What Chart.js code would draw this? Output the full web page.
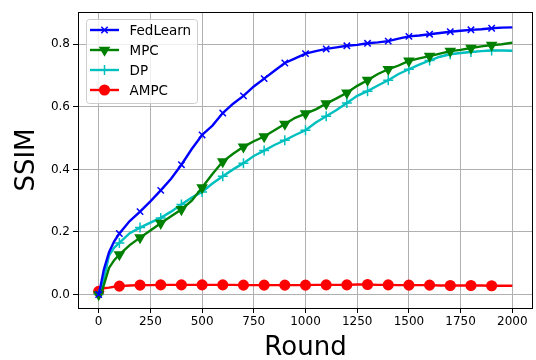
<!DOCTYPE html>
<html>
<head>
<meta charset="utf-8">
<script src="https://cdn.jsdelivr.net/npm/chart.js@4"></script>
<style>
  body { margin: 0; background: #fff; }
  canvas { display: block; }
</style>
</head>
<body>
<canvas id="ssimChart" width="536" height="360"></canvas>
<script>
// Rounds sampled along the x axis (denser at the start where curves rise fast)
const rounds = [0, 10, 25, 50, 75, 100, 150, 200, 250, 300, 350, 400, 450, 500, 550, 600, 650, 700, 750, 800,
    850, 900, 950, 1000, 1050, 1100, 1150, 1200, 1250, 1300, 1350, 1400, 1450, 1500, 1550, 1600, 1650, 1700,
    1750, 1800, 1850, 1900, 1950, 2000];

const fedLearn = [0.0, 0.03, 0.08, 0.135, 0.17, 0.195, 0.235, 0.265, 0.298, 0.333, 0.37, 0.415, 0.465, 0.51,
    0.54, 0.58, 0.61, 0.635, 0.665, 0.69, 0.715, 0.74, 0.755, 0.77, 0.778, 0.785, 0.79, 0.795, 0.798, 0.803,
    0.806, 0.81, 0.818, 0.825, 0.828, 0.832, 0.836, 0.84, 0.843, 0.846, 0.848, 0.851, 0.853, 0.854];

const mpc = [0.0, 0.0, 0.03, 0.085, 0.11, 0.128, 0.158, 0.182, 0.205, 0.228, 0.25, 0.272, 0.3, 0.342, 0.385,
    0.425, 0.45, 0.472, 0.49, 0.505, 0.525, 0.545, 0.565, 0.578, 0.592, 0.61, 0.627, 0.645, 0.667, 0.685,
    0.705, 0.72, 0.732, 0.747, 0.755, 0.762, 0.77, 0.778, 0.782, 0.788, 0.793, 0.797, 0.8, 0.805];

const dp = [0.0, 0.0, 0.05, 0.125, 0.15, 0.165, 0.196, 0.214, 0.23, 0.245, 0.265, 0.288, 0.31, 0.328, 0.355,
    0.378, 0.4, 0.42, 0.443, 0.46, 0.478, 0.493, 0.51, 0.525, 0.55, 0.57, 0.59, 0.612, 0.635, 0.65, 0.668,
    0.685, 0.705, 0.72, 0.735, 0.748, 0.76, 0.768, 0.772, 0.775, 0.778, 0.78, 0.78, 0.779];

const ampc = [0.01, 0.015, 0.02, 0.022, 0.025, 0.027, 0.029, 0.03, 0.03, 0.031, 0.031, 0.031, 0.031, 0.031,
    0.031, 0.031, 0.031, 0.03, 0.03, 0.03, 0.03, 0.03, 0.03, 0.03, 0.031, 0.031, 0.031, 0.031, 0.032, 0.032,
    0.031, 0.031, 0.03, 0.03, 0.03, 0.03, 0.029, 0.029, 0.029, 0.029, 0.029, 0.028, 0.028, 0.028];

const xTicks = [0, 250, 500, 750, 1000, 1250, 1500, 1750, 2000];
const yTicks = [0.0, 0.2, 0.4, 0.6, 0.8];

const series = [
    { label: 'FedLearn', values: fedLearn, color: '#0000ff', pointStyle: 'crossRot', rotation: 0, radius: 4.5 },
    { label: 'MPC', values: mpc, color: '#008000', pointStyle: 'triangle', rotation: 180, radius: 5.2 },
    { label: 'DP', values: dp, color: '#00bfbf', pointStyle: 'cross', rotation: 0, radius: 5 },
    { label: 'AMPC', values: ampc, color: '#ff0000', pointStyle: 'circle', rotation: 0, radius: 4.8 }
];

const FONT = 'DejaVu Sans';

// markers every 100 rounds, last one at 1900
function markerRadius(s) {
    return function(ctx) {
        const r = rounds[ctx.dataIndex];
        return (r % 100 === 0 && r < 2000) ? s.radius : 0;
    };
}

const datasets = series.map(s => ({
    label: s.label,
    data: rounds.map((r, i) => ({ x: r, y: s.values[i] })),
    borderColor: s.color,
    backgroundColor: s.color,
    borderWidth: 2.4,
    pointStyle: s.pointStyle,
    rotation: s.rotation,
    pointRadius: markerRadius(s),
    pointHoverRadius: 0,
    pointBorderWidth: 1.5,
    pointBackgroundColor: s.color,
    pointBorderColor: s.color,
    tension: 0
}));

// frame around the plot + legend box inside the axes
const framePlugin = {
    id: 'frameAndLegend',
    afterDraw(chart) {
        const ctx = chart.ctx;
        const a = chart.chartArea;
        ctx.save();
        ctx.strokeStyle = '#000';
        ctx.lineWidth = 1;
        ctx.strokeRect(a.left + 0.5, a.top + 0.5, a.right - a.left - 1, a.bottom - a.top);

        // legend
        const bx = 86, by = 19, bw = 111, bh = 84;
        ctx.beginPath();
        ctx.roundRect(bx + 0.5, by + 0.5, bw, bh, 3);
        ctx.fillStyle = 'rgba(255,255,255,0.8)';
        ctx.fill();
        ctx.strokeStyle = '#cccccc';
        ctx.stroke();

        ctx.font = '13.5px "' + FONT + '"';
        ctx.textBaseline = 'middle';
        series.forEach((s, i) => {
            const y = 30 + i * 20;
            ctx.strokeStyle = s.color;
            ctx.lineWidth = 2.4;
            ctx.beginPath();
            ctx.moveTo(90, y);
            ctx.lineTo(119, y);
            ctx.stroke();
            ctx.fillStyle = s.color;
            ctx.lineWidth = 1.5;
            Chart.helpers.drawPoint(ctx, {
                pointStyle: s.pointStyle,
                rotation: s.rotation,
                radius: s.radius,
                borderWidth: 1.5
            }, 104.5, y);
            ctx.fillStyle = '#000';
            ctx.fillText(s.label, 129.5, y + 1);
        });
        ctx.restore();
    }
};

new Chart(document.getElementById('ssimChart'), {
    type: 'line',
    data: { datasets: datasets },
    options: {
        responsive: false,
        animation: false,
        layout: { autoPadding: false, padding: { top: 12, right: 3, left: 0, bottom: 0 } },
        plugins: {
            legend: { display: false },
            tooltip: { enabled: false }
        },
        scales: {
            x: {
                type: 'linear',
                min: -100,
                max: 2100,
                afterBuildTicks: axis => { axis.ticks = xTicks.map(v => ({ value: v })); },
                afterFit: axis => {
                    axis.height = 52;
                    axis.paddingLeft = 0;
                    axis.paddingRight = 0;
                },
                grid: { color: '#b0b0b0', lineWidth: 1, tickColor: '#000', tickLength: 5 },
                border: { display: false },
                ticks: {
                    color: '#000',
                    padding: 2,
                    maxRotation: 0,
                    font: { family: FONT, size: 12 },
                    callback: v => String(v)
                },
                title: {
                    display: true,
                    text: 'Round',
                    color: '#000',
                    font: { family: FONT, size: 26, lineHeight: 1 },
                    padding: { top: 0, bottom: -1 }
                }
            },
            y: {
                type: 'linear',
                min: -0.043,
                max: 0.903,
                afterBuildTicks: axis => { axis.ticks = yTicks.map(v => ({ value: v })); },
                afterFit: axis => { axis.width = 78; },
                grid: { color: '#b0b0b0', lineWidth: 1, tickColor: '#000', tickLength: 5 },
                border: { display: false },
                ticks: {
                    color: '#000',
                    padding: 3,
                    font: { family: FONT, size: 12 },
                    callback: v => v.toFixed(1)
                },
                title: {
                    display: true,
                    text: 'SSIM',
                    color: '#000',
                    font: { family: FONT, size: 26, lineHeight: 1.2 },
                    padding: { top: 12, bottom: 0 }
                }
            }
        }
    },
    plugins: [framePlugin]
});
</script>
</body>
</html>
